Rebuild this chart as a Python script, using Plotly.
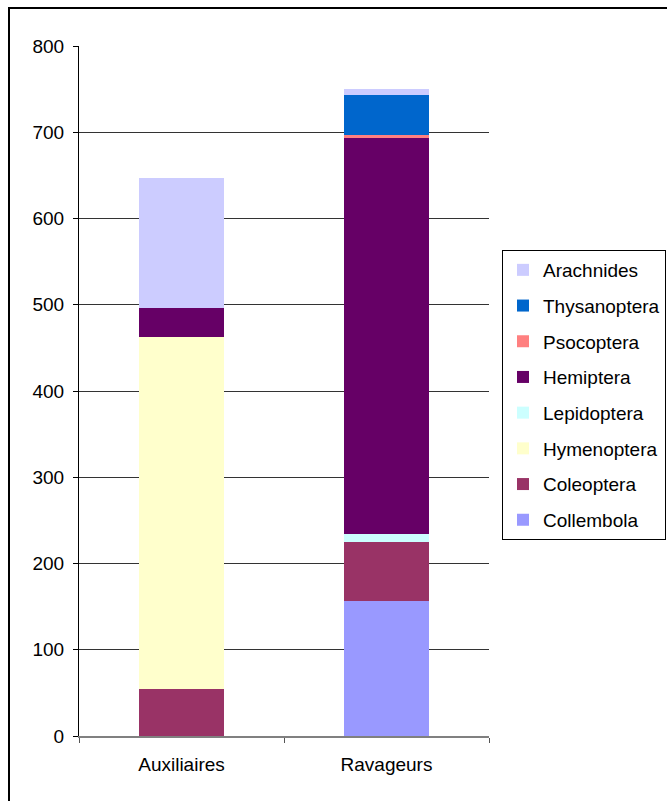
import plotly.graph_objects as go

# Insect counts per group, stacked from bottom to top
categories = ["Auxiliaires", "Ravageurs"]
orders = ["Collembola", "Coleoptera", "Hymenoptera", "Lepidoptera",
          "Hemiptera", "Psocoptera", "Thysanoptera", "Arachnides"]
collembola = [0, 156]
coleoptera = [55, 69]
hymenoptera = [408, 0]
lepidoptera = [0, 9]
hemiptera = [33, 459]
psocoptera = [0, 4]
thysanoptera = [0, 46]
arachnides = [151, 7]
series = [collembola, coleoptera, hymenoptera, lepidoptera,
          hemiptera, psocoptera, thysanoptera, arachnides]
colors = ["#9999FF", "#993366", "#FFFFCC", "#CCFFFF",
          "#660066", "#FF8080", "#0066CC", "#CCCCFF"]

fig = go.Figure()
n = len(orders)
for i, (name, vals, col) in enumerate(zip(orders, series, colors)):
    fig.add_trace(go.Bar(
        x=categories, y=vals, name=name, legendgroup=name,
        legendrank=n - i,  # top of the stack listed first
        marker=dict(color=col, line=dict(width=0)),
    ))

font = "Liberation Sans, Arial, sans-serif"
fig.update_layout(
    width=667, height=801,
    barmode="stack", bargap=0.59,
    paper_bgcolor="white", plot_bgcolor="white",
    margin=dict(l=79, r=178, t=46, b=65, autoexpand=False),
    font=dict(family=font, size=19, color="black"),
    showlegend=True,
    legend=dict(
        xref="container", yref="container",
        x=502 / 667, y=1 - 250 / 801, xanchor="left", yanchor="top",
        traceorder="grouped", tracegroupgap=8,
        bordercolor="black", borderwidth=1, bgcolor="white",
        font=dict(family=font, size=19, color="black"),
        itemwidth=30,
    ),
    xaxis=dict(
        type="category", tickson="boundaries", ticks="outside", ticklen=5,
        tickcolor="#555555", showline=True, linecolor="#808080", linewidth=2,
        showgrid=False, tickfont=dict(size=19), ticklabelstandoff=10,
    ),
    yaxis=dict(
        range=[0, 800], dtick=100, ticks="outside", ticklen=5,
        tickcolor="black", showline=True, linecolor="black", linewidth=1,
        showgrid=True, gridcolor="#333333", gridwidth=1, zeroline=False,
        tickfont=dict(size=19), ticklabelstandoff=5,
    ),
)

# chart frame: left and top edges
fig.add_shape(type="line", xref="paper", yref="paper",
              x0=-70 / 410, x1=-70 / 410, y0=-65 / 690, y1=728 / 690,
              line=dict(color="black", width=2))
fig.add_shape(type="line", xref="paper", yref="paper",
              x0=-71 / 410, x1=588 / 410, y0=728 / 690, y1=728 / 690,
              line=dict(color="black", width=2))

fig.write_html("out.html")
